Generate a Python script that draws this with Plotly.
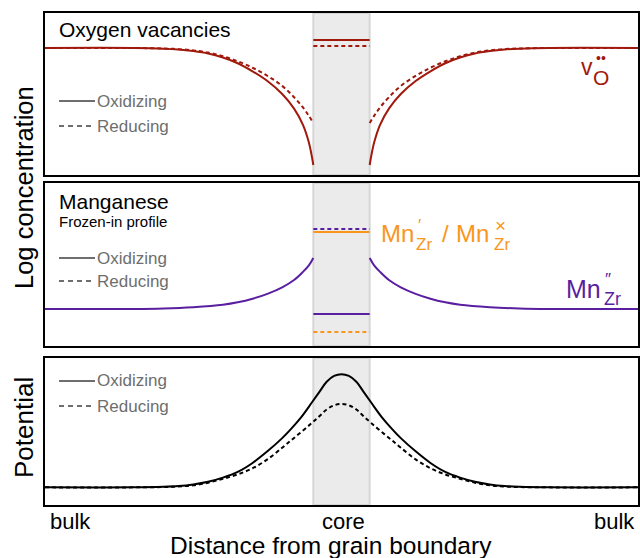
import plotly.graph_objects as go

# ---------------- data ----------------
# distance from grain-boundary centre (arbitrary units, bulk at +-10)
core_half_width = 0.95

# Oxygen vacancies (log concentration), one side of the core (mirrored)
vac_d = [0.95, 1.1, 1.3, 1.6, 2.0, 2.5, 3.0, 3.5, 4.0, 4.5, 5.0, 5.5, 6.0, 7.0, 10.0]
vac_ox = [0.62, 2.0, 3.1, 4.1, 5.0, 5.8, 6.4, 6.9, 7.25, 7.5, 7.65, 7.75, 7.8, 7.84, 7.84]
vac_red = [3.21, 3.65, 4.17, 4.8, 5.5, 6.12, 6.62, 7.02, 7.33, 7.56, 7.69, 7.77, 7.81, 7.84, 7.84]
vac_core_ox = 8.33
vac_core_red = 7.96

# Manganese (frozen-in profile)
mn_d = [0.95, 1.1, 1.3, 1.6, 2.0, 2.5, 3.0, 3.5, 4.0, 5.0, 6.0, 7.0, 10.0]
mn2_bulk = [5.40, 4.95, 4.55, 4.05, 3.6, 3.2, 2.9, 2.68, 2.53, 2.38, 2.30, 2.27, 2.27]
mn2_core_ox = 1.96
mn2_core_red = 7.18
mn1_core_ox = 6.99
mn1_core_red = 0.86

# Potential
pot_d = [0.0, 0.25, 0.5, 0.75, 1.0, 1.35, 1.7, 2.0, 2.5, 3.0, 3.5, 4.0, 4.5, 5.0, 5.5, 6.0, 7.0, 10.0]
pot_ox = [8.9, 8.78, 8.38, 7.68, 6.97, 6.0, 5.18, 4.55, 3.65, 2.86, 2.25, 1.86, 1.58, 1.40, 1.29, 1.24, 1.2, 1.2]
pot_red = [6.87, 6.78, 6.5, 6.03, 5.58, 4.98, 4.40, 3.9, 3.1, 2.5, 2.08, 1.78, 1.52, 1.34, 1.26, 1.22, 1.2, 1.2]

tick_labels = ["bulk", "core", "bulk"]
legend_labels = ["Oxidizing", "Reducing"]

# ---------------- styles ----------------
RED = "#a0190c"
PURPLE = "#5a1fa0"
ORANGE = "#f9961c"
GREY_TXT = "#6e6e6e"
DASH = "4px,3px"
FONT = "Liberation Sans, Arial, Helvetica, sans-serif"
W, H = 640, 558


def px(x):
    return x / W


def py(y):
    return 1 - y / H


def left(ds, ys):
    return [-d for d in reversed(ds)], list(reversed(ys))


def right(ds, ys):
    return list(ds), list(ys)


def full(ds, ys):
    xl, yl = left(ds[1:], ys[1:])
    return xl + list(ds), yl + list(ys)


fig = go.Figure()

line_kw = dict(mode="lines", hoverinfo="skip", showlegend=False)

# panel 1 : oxygen vacancies
for side in (left, right):
    x, y = side(vac_d, vac_ox)
    fig.add_trace(go.Scatter(x=x, y=y, line=dict(color=RED, width=2, shape="spline"), xaxis="x", yaxis="y", **line_kw))
    x, y = side(vac_d, vac_red)
    fig.add_trace(go.Scatter(x=x, y=y, line=dict(color=RED, width=2, dash=DASH, shape="spline"), xaxis="x", yaxis="y", **line_kw))
cx = [-core_half_width, core_half_width]
fig.add_trace(go.Scatter(x=cx, y=[vac_core_ox] * 2, line=dict(color=RED, width=2), xaxis="x", yaxis="y", **line_kw))
fig.add_trace(go.Scatter(x=cx, y=[vac_core_red] * 2, line=dict(color=RED, width=2, dash=DASH), xaxis="x", yaxis="y", **line_kw))

# panel 2 : manganese
for side in (left, right):
    x, y = side(mn_d, mn2_bulk)
    fig.add_trace(go.Scatter(x=x, y=y, line=dict(color=PURPLE, width=2, shape="spline"), xaxis="x2", yaxis="y2", **line_kw))
fig.add_trace(go.Scatter(x=cx, y=[mn2_core_red] * 2, line=dict(color=PURPLE, width=2, dash=DASH), xaxis="x2", yaxis="y2", **line_kw))
fig.add_trace(go.Scatter(x=cx, y=[mn1_core_ox] * 2, line=dict(color=ORANGE, width=2), xaxis="x2", yaxis="y2", **line_kw))
fig.add_trace(go.Scatter(x=cx, y=[mn2_core_ox] * 2, line=dict(color=PURPLE, width=2), xaxis="x2", yaxis="y2", **line_kw))
fig.add_trace(go.Scatter(x=cx, y=[mn1_core_red] * 2, line=dict(color=ORANGE, width=2, dash=DASH), xaxis="x2", yaxis="y2", **line_kw))

# panel 3 : potential
x, y = full(pot_d, pot_ox)
fig.add_trace(go.Scatter(x=x, y=y, line=dict(color="black", width=2, shape="spline"), xaxis="x3", yaxis="y3", **line_kw))
x, y = full(pot_d, pot_red)
fig.add_trace(go.Scatter(x=x, y=y, line=dict(color="black", width=2, dash=DASH, shape="spline"), xaxis="x3", yaxis="y3", **line_kw))

# ---------------- axes ----------------
xdom = [px(45), px(638)]
ydoms = [[py(175), py(13)], [py(346), py(183)], [py(505), py(358)]]
ax_common = dict(showline=True, mirror=True, linecolor="black", linewidth=2,
                 showgrid=False, zeroline=False, showticklabels=False, ticks="")
layout = {}
for i, yd in enumerate(ydoms):
    sfx = "" if i == 0 else str(i + 1)
    layout["xaxis" + sfx] = dict(domain=xdom, range=[-10, 10], anchor="y" + sfx, **ax_common)
    layout["yaxis" + sfx] = dict(domain=yd, range=[0, 10], anchor="x" + sfx, **ax_common)

shapes = []
annotations = []
for i in range(3):
    sfx = "" if i == 0 else str(i + 1)
    shapes.append(dict(type="rect", xref="x" + sfx, yref=f"y{sfx} domain", x0=-core_half_width, x1=core_half_width,
                       y0=0, y1=1, fillcolor="#ebebeb", line=dict(color="#d6d6d6", width=2), layer="below"))


def text(s, x, y, size, color="black", xanchor="left", yanchor="middle", angle=0):
    annotations.append(dict(text=s, x=px(x), y=py(y), xref="paper", yref="paper", showarrow=False,
                            xanchor=xanchor, yanchor=yanchor, textangle=angle,
                            font=dict(family=FONT, size=size, color=color)))


# legends (per panel)
for y_ox, y_red in [(101, 126), (258, 281), (381, 406)]:
    for yy, dash, lab in [(y_ox, "solid", legend_labels[0]), (y_red, "5px,4px", legend_labels[1])]:
        shapes.append(dict(type="line", xref="paper", yref="paper", x0=px(59), x1=px(95), y0=py(yy), y1=py(yy),
                           line=dict(color=GREY_TXT, width=2, dash=dash)))
        text(lab, 95, yy, 17, GREY_TXT)

# titles
text("Oxygen vacancies", 57, 30, 21)
text("Manganese", 57, 201, 21)
text("Frozen-in profile", 57, 221, 15)

# species labels
text("v", 587, 67, 23, RED, xanchor="center")
text("O", 601, 77, 21, RED, xanchor="center")
text("••", 601, 58, 14, RED, xanchor="center")

text("Mn", 379, 233, 24, ORANGE)
text("Zr", 414, 244, 17, ORANGE)
text("′", 416, 226, 17, ORANGE)
text("/", 440, 233, 24, ORANGE)
text("Mn", 454, 233, 24, ORANGE)
text("×", 493, 225, 19, ORANGE)
text("Zr", 492, 244, 17, ORANGE)

text("Mn", 564, 289, 25, PURPLE)
text("″", 603, 279, 17, PURPLE)
text("Zr", 602, 299, 18, PURPLE)

# x tick labels and titles
text(tick_labels[0], 48, 521, 22)
text(tick_labels[1], 343, 521, 22, xanchor="center")
text(tick_labels[2], 637, 521, 22, xanchor="right")
text("Distance from grain boundary", 331, 545, 24.5, xanchor="center")
text("Log concentration", 24, 188, 25.5, xanchor="center", angle=-90)
text("Potential", 24, 428, 26, xanchor="center", angle=-90)

fig.update_layout(width=W, height=H, margin=dict(l=0, r=0, t=0, b=0),
                  paper_bgcolor="white", plot_bgcolor="white",
                  shapes=shapes, annotations=annotations, **layout)

fig.write_html("out.html")
